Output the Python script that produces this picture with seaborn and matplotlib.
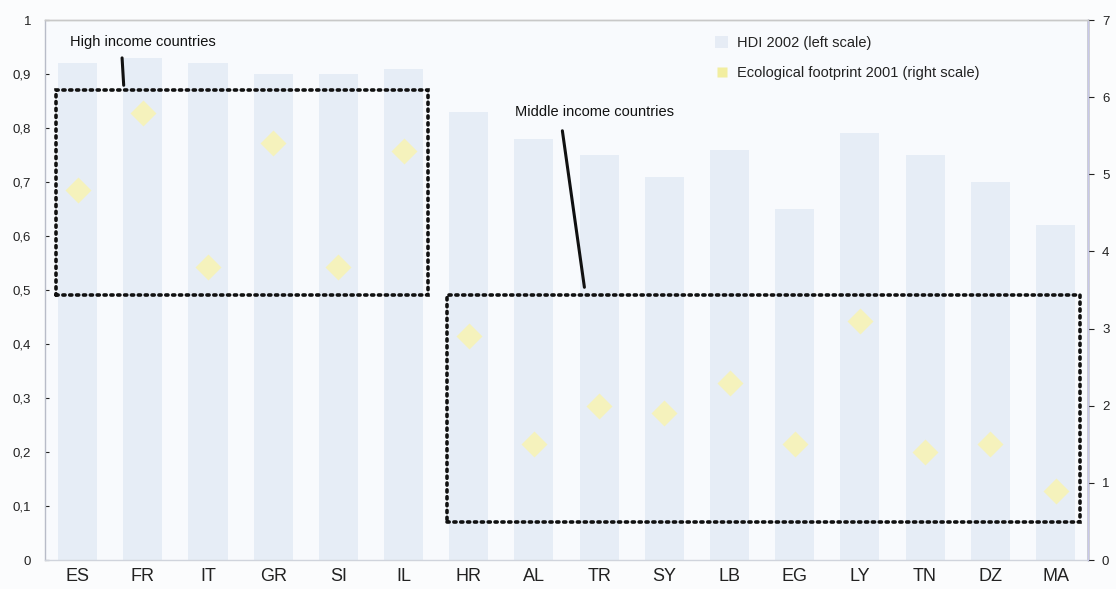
import numpy as np
import pandas as pd
import seaborn as sns
import matplotlib
matplotlib.use("Agg")
import matplotlib.pyplot as plt
from matplotlib.patches import Patch, Rectangle
from matplotlib.lines import Line2D
from matplotlib.ticker import FuncFormatter

# ---- data ----
countries = ["ES", "FR", "IT", "GR", "SI", "IL", "HR", "AL", "TR", "SY",
             "LB", "EG", "LY", "TN", "DZ", "MA"]
hdi_2002 = [0.92, 0.93, 0.92, 0.90, 0.90, 0.91, 0.83, 0.78, 0.75, 0.71,
            0.76, 0.65, 0.79, 0.75, 0.70, 0.62]
footprint_2001 = [4.8, 5.8, 3.8, 5.4, 3.8, 5.3, 2.9, 1.5, 2.0, 1.9,
                  2.3, 1.5, 3.1, 1.4, 1.5, 0.9]

group_names = ["High income countries", "Middle income countries"]
group_first = ["ES", "HR"]
group_last = ["IL", "MA"]
group_low = [0.49, 0.07]
group_high = [0.87, 0.49]

left_ticks = [0, 0.1, 0.2, 0.3, 0.4, 0.5, 0.6, 0.7, 0.8, 0.9, 1]
right_ticks = [0, 1, 2, 3, 4, 5, 6, 7]

df = pd.DataFrame({"country": countries, "hdi": hdi_2002, "eco": footprint_2001})

# ---- style ----
sns.set_style("white")
plt.rcParams["font.family"] = ["Liberation Sans", "DejaVu Sans"]

bar_color = "#e6edf6"
dia_color = "#f5f2bc"
bg = "#f8fafd"

fig = plt.figure(figsize=(11.16, 5.89), dpi=100, facecolor="#fbfcfd")
ax = fig.add_axes([0.0403, 0.0492, 0.9347, 0.9168])
ax.set_facecolor(bg)

sns.barplot(data=df, x="country", y="hdi", order=countries, color=bar_color,
            width=0.6, saturation=1, linewidth=0, ax=ax, zorder=1)
ax.set_ylim(0, 1)
ax.set_xlim(-0.5, len(countries) - 0.5)

ax2 = ax.twinx()
sns.pointplot(data=df, x="country", y="eco", order=countries, color=dia_color,
              markers="D", linestyle="none", markersize=11, ax=ax2, zorder=3)
ax2.set_ylim(0, 7)
ax2.set_xlim(-0.5, len(countries) - 0.5)

# ---- axes formatting ----
ax.set_yticks(left_ticks)
ax.yaxis.set_major_formatter(FuncFormatter(lambda v, p: ("%g" % v).replace(".", ",")))
ax2.set_yticks(right_ticks)
ax.set_xlabel("")
ax.set_ylabel("")
ax2.set_ylabel("")
ax2.set_xlabel("")

ax.tick_params(axis="x", labelsize=13, length=0, pad=6, colors="#222222")
ax.tick_params(axis="y", labelsize=9.5, length=3, direction="in", pad=10, colors="#222222")
ax2.tick_params(axis="y", labelsize=9.5, length=4, direction="out", pad=6, colors="#222222")

for a in (ax, ax2):
    for s in a.spines.values():
        s.set_linewidth(1.0)
ax.spines["left"].set_color("#b8bcc8")
ax.spines["top"].set_color("#c8c8c8")
ax.spines["bottom"].set_color("#d0d4dc")
ax2.spines["right"].set_color("#c8c8ea")
ax2.spines["left"].set_visible(False)
ax2.spines["top"].set_color("#c8c8c8")
ax2.spines["bottom"].set_visible(False)

# ---- group boxes (annotations) ----
for name, f, l, lo, hi in zip(group_names, group_first, group_last, group_low, group_high):
    i0 = countries.index(f) - 0.33
    i1 = countries.index(l) + 0.38
    ax.add_patch(Rectangle((i0, lo), i1 - i0, hi - lo, fill=False,
                           linestyle=(0, (0.6, 1.3)), linewidth=2.6,
                           edgecolor="#111111", zorder=4, capstyle="round"))

ax.text(-0.12, 0.96, group_names[0], fontsize=10.5, ha="left", va="center",
        color="#111111", zorder=5)
ax.annotate("", xy=(0.71, 0.874), xytext=(0.68, 0.935),
            arrowprops=dict(arrowstyle="-", lw=2.2, color="#111111"), zorder=5)
ax.text(6.71, 0.83, group_names[1], fontsize=10.5, ha="left", va="center",
        color="#111111", zorder=5)
ax.annotate("", xy=(7.78, 0.50), xytext=(7.43, 0.80),
            arrowprops=dict(arrowstyle="-", lw=2.2, color="#111111"), zorder=5)

# ---- legend ----
handles = [Patch(facecolor="#e6ecf5", edgecolor="none"),
           Line2D([], [], marker="s", linestyle="none", markersize=7,
                  markerfacecolor="#f2eea0", markeredgecolor="none")]
labels = ["HDI 2002 (left scale)", "Ecological footprint 2001 (right scale)"]
ax2.legend(handles, labels, loc="upper left", bbox_to_anchor=(0.63, 0.995),
           frameon=False, fontsize=10.5, handlelength=0.9, handleheight=0.9,
           handletextpad=0.6, labelspacing=1.1, labelcolor="#222222")

fig.savefig("out.png", dpi=100, facecolor=fig.get_facecolor())
